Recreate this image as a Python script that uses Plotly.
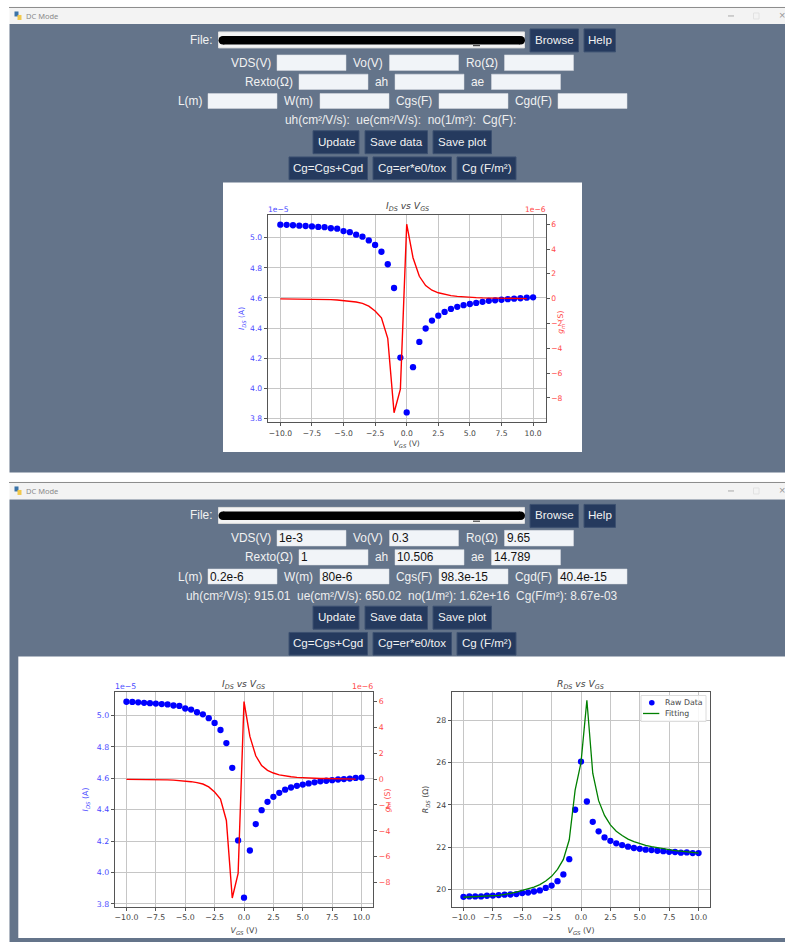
import plotly.graph_objects as go

# ---------- data ----------
VGS = [-10, -9.5, -9, -8.5, -8, -7.5, -7, -6.5, -6, -5.5, -5, -4.5, -4, -3.5, -3, -2.5, -2, -1.5, -1, -0.5,
       0, 0.5, 1, 1.5, 2, 2.5, 3, 3.5, 4, 4.5, 5, 5.5, 6, 6.5, 7, 7.5, 8, 8.5, 9, 9.5, 10]
IDS_e5 = [5.087, 5.086, 5.083, 5.080, 5.078, 5.075, 5.072, 5.070, 5.063, 5.060, 5.044, 5.037, 5.020, 5.007,
          4.982, 4.952, 4.907, 4.824, 4.666, 4.204, 3.840, 4.140, 4.308, 4.397, 4.450, 4.482, 4.507, 4.527,
          4.541, 4.552, 4.560, 4.567, 4.574, 4.581, 4.584, 4.588, 4.592, 4.595, 4.598, 4.602, 4.604]
VGS_gm = [-10, -9.5, -9, -8.5, -8, -7.5, -7, -6.5, -6, -5.5, -5, -4.5, -4, -3.5, -3, -2.5, -2, -1.5, -1, -0.5,
          0, 0.5, 1, 1.5, 2, 2.5, 3, 3.5, 4, 4.5, 5, 5.5, 6, 6.5, 7, 7.5, 8, 8.5, 9, 9.5]
GM_e6 = [-0.02, -0.02, -0.03, -0.03, -0.03, -0.04, -0.05, -0.06, -0.08, -0.11, -0.15, -0.20, -0.27, -0.38,
         -0.60, -1.00, -1.55, -3.20, -9.20, -7.30, 6.00, 3.30, 1.80, 1.05, 0.68, 0.47, 0.33, 0.24,
         0.18, 0.13, 0.10, 0.08, 0.06, 0.05, 0.04, 0.03, 0.02, 0.02, 0.01, 0.0]
RDS = [19.65, 19.67, 19.67, 19.67, 19.70, 19.71, 19.73, 19.75, 19.76, 19.78, 19.83, 19.85, 19.90, 19.95,
       20.07, 20.18, 20.39, 20.71, 21.43, 23.77, 26.05, 24.16, 23.20, 22.75, 22.46, 22.30, 22.18, 22.10,
       22.02, 21.96, 21.92, 21.88, 21.86, 21.83, 21.81, 21.78, 21.77, 21.74, 21.75, 21.72, 21.72]
RDS_FIT = [19.63, 19.64, 19.65, 19.66, 19.67, 19.69, 19.72, 19.76, 19.81, 19.87, 19.95, 20.02, 20.11, 20.23,
           20.40, 20.62, 20.95, 21.42, 22.35, 24.70, 26.00, 28.95, 25.50, 24.20, 23.50, 23.05, 22.75, 22.55,
           22.38, 22.26, 22.16, 22.08, 22.02, 21.97, 21.92, 21.88, 21.84, 21.81, 21.78, 21.75, 21.72]

# ---------- interface text ----------
WINDOW_TITLE = "DC Mode"
ROWS = [
    (62.7, 55, 70.7, [("VDS(V)", 250.5, 277), ("Vo(V)", 368, 389.5), ("Ro(Ω)", 481.5, 504.5)]),
    (82, 74.3, 89.7, [("Rexto(Ω)", 268.5, 299), ("ah", 381.5, 395), ("ae", 477.5, 491.5)]),
    (101.3, 93.7, 108.7, [("L(m)", 190, 208), ("W(m)", 298.5, 320), ("Cgs(F)", 414, 439), ("Cgd(F)", 533, 558)]),
]
VALUES_TOP = ["", "", "", "", "", "", "", "", "", ""]
VALUES_BOTTOM = ["1e-3", "0.3", "9.65", "1", "10.506", "14.789", "0.2e-6", "80e-6", "98.3e-15", "40.4e-15"]
INFO_TOP = "uh(cm²/V/s):  ue(cm²/V/s):  no(1/m²):  Cg(F):"
INFO_BOTTOM = "uh(cm²/V/s): 915.01  ue(cm²/V/s): 650.02  no(1/m²): 1.62e+16  Cg(F/m²): 8.67e-03"
BUTTONS = [("Browse", 530, 578.5, 29, 52), ("Help", 584, 615.5, 29, 52),
           ("Update", 313, 359, 131, 154), ("Save data", 365, 427.5, 131, 154), ("Save plot", 433, 491.5, 131, 154),
           ("Cg=Cgs+Cgd", 289, 367.5, 157.3, 180), ("Cg=er*e0/tox", 373, 451.5, 157.3, 180), ("Cg (F/m²)", 457, 516, 157.3, 180)]
LEGEND_LABELS = ["Raw Data", "Fitting"]

W, H = 785, 944
SLATE = "#64748a"
BTN = "#253a5e"
UI_FONT = "Liberation Sans"
UI_SIZE = 11.9
PLOT_FONT = "DejaVu Sans"
INK = "#444444"
BLUE_TXT = "#4a4aff"
RED_TXT = "#ff4a4a"
GRID = "#c6c6c6"

px = lambda x: x / W
py = lambda y: 1 - y / H
shapes, notes = [], []


def rect(x0, y0, x1, y1, fill, line=None, lw=1, layer="below"):
    shapes.append(dict(type="rect", xref="paper", yref="paper", layer=layer, x0=px(x0), x1=px(x1), y0=py(y1), y1=py(y0),
                       fillcolor=fill, line=dict(color=line or fill, width=lw if line else 0)))


def circle(x0, y0, x1, y1, fill, layer="below"):
    shapes.append(dict(type="circle", xref="paper", yref="paper", layer=layer, x0=px(x0), x1=px(x1), y0=py(y1), y1=py(y0),
                       fillcolor=fill, line=dict(width=0)))


def hline(x0, y0, x1, y1, color, lw=1, layer="below"):
    shapes.append(dict(type="line", xref="paper", yref="paper", layer=layer, x0=px(x0), x1=px(x1), y0=py(y0), y1=py(y1),
                       line=dict(color=color, width=lw)))


def text(s, x, y, size=UI_SIZE, color="#f2f2f2", anchor="center", font=UI_FONT, angle=0):
    notes.append(dict(text=s, x=px(x), y=py(y), xref="paper", yref="paper", showarrow=False, xanchor=anchor, yanchor="middle",
                      font=dict(size=size, color=color, family=font), textangle=angle, borderpad=0, borderwidth=0))


def window(title_top, title_bottom, body_bottom, dy, values, info, info_x):
    hline(9, title_top - 0.5, W, title_top - 0.5, "#8a8a8a", 1)
    rect(9.5, title_top, W, title_bottom, "#f3f3f3")
    rect(9.5, title_bottom, W, body_bottom, SLATE)
    # title bar: icon, caption, window controls
    rect(14.5, title_top + 3.5, 18.5, title_top + 8.5, "#3a73a8")
    rect(17.5, title_top + 7, 21.5, title_top + 12, "#f2c94c")
    text(WINDOW_TITLE, 26, title_top + 8, size=7.5, color="#8a8a8a", anchor="left", font="Noto Sans")
    hline(728, title_top + 8, 734, title_top + 8, "#aaaaaa")
    rect(753.5, title_top + 5, 759, title_top + 11, "#f3f3f3", "#e2e2e2")
    text("×", 781.5, title_top + 7.5, size=11, color="#999999")
    # file row
    text("File:", 211.5, 40 + dy, anchor="right")
    rect(218.5, 32 + dy, 524.5, 48 + dy, "#f4f4f4", "#dddddd")
    rect(223, 36 + dy, 520, 44.5 + dy, "#000000")
    circle(218.5, 36 + dy, 227, 44.5 + dy, "#000000")
    circle(516.5, 36 + dy, 525, 44.5 + dy, "#000000")
    hline(473, 45.8 + dy, 480, 45.8 + dy, "#222222", 1)
    # parameter rows
    k = 0
    for cy, y0, y1, cells in ROWS:
        for label, lx, ex in cells:
            text(label, lx, cy + dy)
            rect(ex, y0 + dy, ex + 69, y1 + dy, "#f1f4f8", "#d9dde3", 0.5)
            if values[k]:
                text(values[k], ex + 2, cy + dy, color="#111111", anchor="left")
            k += 1
    text(info, info_x, 120.7 + dy, color="#eeeeee")
    for label, x0, x1, y0, y1 in BUTTONS:
        rect(x0, y0 + dy, x1, y1 + dy, BTN, "#3c5070", 1)
        text(label, (x0 + x1) / 2, (y0 + y1) / 2 + dy - 1, size=11.6)


# ---------- window chrome ----------
window(8, 24, 473.5, 0, VALUES_TOP, INFO_TOP, 400)
window(484, 500.5, H, 476.5, VALUES_BOTTOM, INFO_BOTTOM, 402)
rect(223, 183, 582, 453, "#ffffff")
rect(18.3, 658, W, 940, "#ffffff")

fig = go.Figure()


def axis_common(size):
    return dict(showline=True, linecolor="#555555", linewidth=1, ticks="outside", ticklen=3, tickwidth=1, tickcolor="#555555",
                tickfont=dict(family=PLOT_FONT, size=size, color=INK), zeroline=False, mirror=True)


def add_ids_panel(xa, ya, ya2, left, right, top, bottom, x_rng, y_rng, y2_rng, size, msize, st):
    xn, yn, y2n = xa.replace("x", "xaxis"), ya.replace("y", "yaxis"), ya2.replace("y", "yaxis")
    fig.add_trace(go.Scatter(x=VGS, y=IDS_e5, mode="markers", marker=dict(color="#0000ff", size=msize), xaxis=xa, yaxis=ya, showlegend=False))
    fig.add_trace(go.Scatter(x=VGS_gm, y=GM_e6, mode="lines", line=dict(color="#ff0000", width=1.4), xaxis=xa, yaxis=ya2, showlegend=False))
    fig.layout[xn] = dict(axis_common(size), domain=[px(left), px(right)], range=x_rng, anchor=ya, tick0=0, dtick=2.5, tickformat=".1f",
                          showgrid=True, gridcolor=GRID, gridwidth=1,
                          title=dict(text="<i>V<sub>GS</sub></i> (V)", font=dict(family=PLOT_FONT, size=size, color=INK), standoff=st))
    fig.layout[yn] = dict(axis_common(size), domain=[py(bottom), py(top)], range=y_rng, anchor=xa, tick0=3.8, dtick=0.2, tickformat=".1f",
                          showgrid=True, gridcolor=GRID, gridwidth=1)
    fig.layout[yn].tickfont.color = BLUE_TXT
    fig.layout[yn].title = dict(text="<i>I<sub>DS</sub></i> (A)", font=dict(family=PLOT_FONT, size=size, color=BLUE_TXT), standoff=st)
    fig.layout[y2n] = dict(axis_common(size), domain=[py(bottom), py(top)], range=y2_rng, anchor=xa, overlaying=ya, side="right", tick0=0, dtick=2,
                           showgrid=False, mirror=False)
    fig.layout[y2n].tickfont.color = RED_TXT


# ---------- three plots ----------
add_ids_panel("x", "y", "y2", 267.7, 545.7, 215, 423.3, [-11, 11], [3.7735, 5.154], [-9.98, 6.78], 7.6, 6.3, 4)
add_ids_panel("x2", "y3", "y4", 114.7, 373.3, 693.3, 909, [-11, 11], [3.78, 5.15], [-9.9, 6.75], 7.8, 6.3, 6)

fig.add_trace(go.Scatter(x=VGS, y=RDS, mode="markers", name=LEGEND_LABELS[0], marker=dict(color="#0000ff", size=6.3), xaxis="x3", yaxis="y5", showlegend=False))
fig.add_trace(go.Scatter(x=VGS, y=RDS_FIT, mode="lines", name=LEGEND_LABELS[1], line=dict(color="#008000", width=1.3), xaxis="x3", yaxis="y5", showlegend=False))
fig.layout.xaxis3 = dict(axis_common(7.8), domain=[px(451.7), px(710.3)], range=[-11, 11], anchor="y5", tick0=0, dtick=2.5, tickformat=".1f",
                         showgrid=True, gridcolor=GRID, title=dict(text="<i>V<sub>GS</sub></i> (V)", font=dict(family=PLOT_FONT, size=7.8, color=INK), standoff=6))
fig.layout.yaxis5 = dict(axis_common(7.8), domain=[py(909), py(693.3)], range=[19.164, 29.35], anchor="x3", tick0=20, dtick=2, tickformat="d",
                         showgrid=True, gridcolor=GRID, title=dict(text="<i>R<sub>DS</sub></i> (Ω)", font=dict(family=PLOT_FONT, size=7.8, color=INK), standoff=6))

# compact legend key (Plotly's own legend rows cannot be this tight)
rect(641, 697, 706, 723, "rgba(255,255,255,0.85)", "#dcdcdc", 1, layer="above")
circle(649, 701.5, 654.6, 707.1, "#0000ff", layer="above")
hline(643, 715, 659.3, 715, "#008000", 1.3, layer="above")
text(LEGEND_LABELS[0], 665, 704, size=7.8, color=INK, anchor="left", font=PLOT_FONT)
text(LEGEND_LABELS[1], 665, 715, size=7.8, color=INK, anchor="left", font=PLOT_FONT)

# panel titles, offset text, right-hand axis names
for s, x, y in [("<i>I<sub>DS</sub> vs V<sub>GS</sub></i>", 407, 207), ("<i>I<sub>DS</sub> vs V<sub>GS</sub></i>", 243.7, 685.5),
                ("<i>R<sub>DS</sub> vs V<sub>GS</sub></i>", 580.8, 685.5)]:
    text(s, x, y, size=9.2, color=INK, font=PLOT_FONT)
text("1e−5", 268, 210, size=7.6, color=BLUE_TXT, anchor="left", font=PLOT_FONT)
text("1e−6", 546, 210, size=7.6, color=RED_TXT, anchor="right", font=PLOT_FONT)
text("1e−5", 115, 688, size=7.8, color=BLUE_TXT, anchor="left", font=PLOT_FONT)
text("1e−6", 373, 688, size=7.8, color=RED_TXT, anchor="right", font=PLOT_FONT)
text("<i>g<sub>m</sub></i> (S)", 561.5, 323, size=7.6, color=RED_TXT, font=PLOT_FONT, angle=-90)
text("<i>g<sub>m</sub></i> (S)", 388, 802, size=7.8, color=RED_TXT, font=PLOT_FONT, angle=-90)

fig.update_layout(
    width=W, height=H, margin=dict(l=0, r=0, t=0, b=0), paper_bgcolor="#ffffff", plot_bgcolor="rgba(0,0,0,0)",
    shapes=shapes, annotations=notes, showlegend=False,
)

fig.write_html("out.html", config=dict(displayModeBar=False),
               post_script="document.body.style.margin='0';document.documentElement.style.overflow='hidden';")
